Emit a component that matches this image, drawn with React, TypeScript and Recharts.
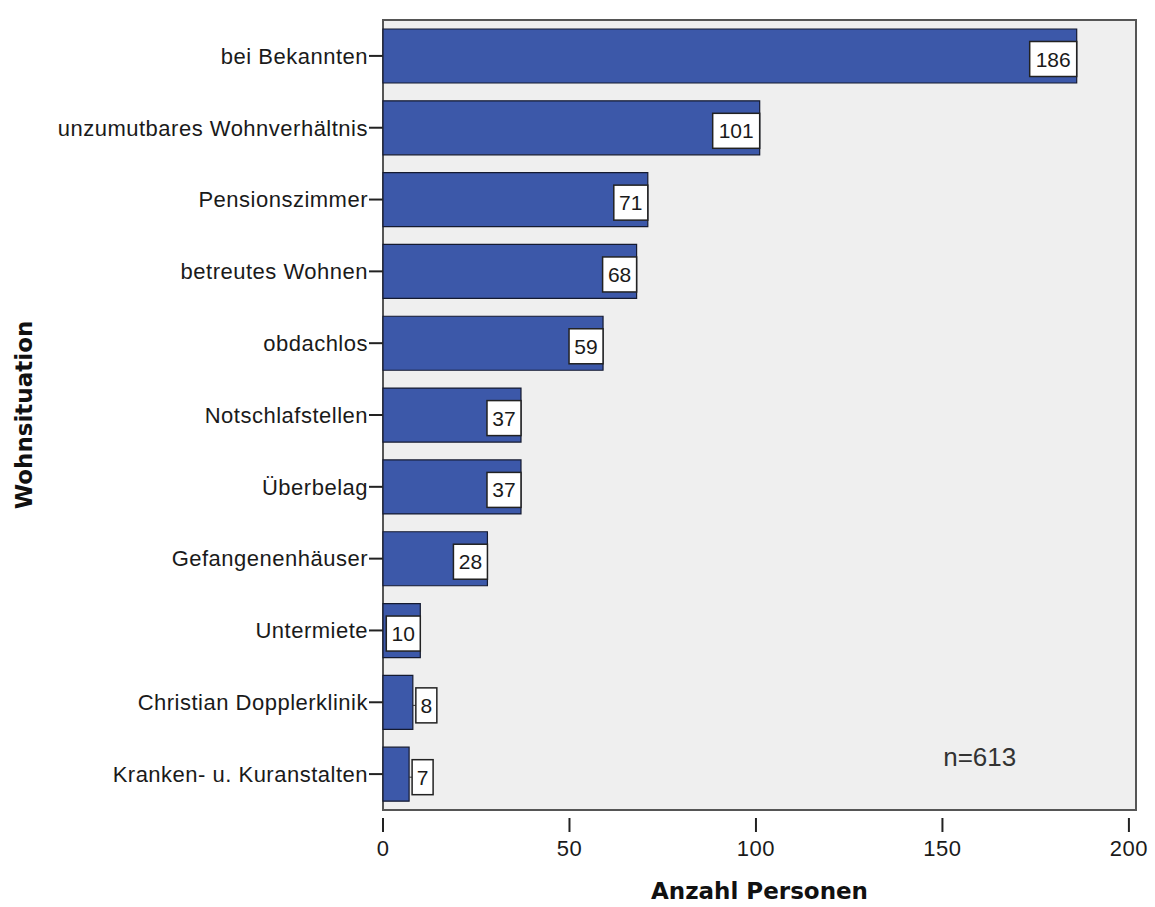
import { BarChart, Bar, XAxis, YAxis, LabelList, ReferenceArea, ReferenceDot } from 'recharts'

const categories = [
  'bei Bekannten',
  'unzumutbares Wohnverhältnis',
  'Pensionszimmer',
  'betreutes Wohnen',
  'obdachlos',
  'Notschlafstellen',
  'Überbelag',
  'Gefangenenhäuser',
  'Untermiete',
  'Christian Dopplerklinik',
  'Kranken- u. Kuranstalten',
]
const counts = [186, 101, 71, 68, 59, 37, 37, 28, 10, 8, 7]
const xTicks = [0, 50, 100, 150, 200]
const xMax = 201.9
const sampleNote = 'n=613'

const data = categories.map((name, i) => ({ name, value: counts[i] }))

const tickFont = { fontSize: 22, fill: '#1a1a1a', fontFamily: 'Liberation Sans, Arial, sans-serif', letterSpacing: 0.5 }
const titleFont = 'DejaVu Sans, Verdana, sans-serif'

// white value box at the bar end, pushed outside when the bar is too short
function ValueBox(props: any) {
  const { x, y, width, height, value } = props
  const txt = String(value)
  const boxW = txt.length * 13 + 8
  const boxH = 35
  const cy = y + height / 2 + 3
  const end = x + width
  const inside = width >= 34
  const bx = inside ? end - boxW : end + 3
  return (
    <g>
      {!inside && <line x1={end} x2={bx} y1={cy} y2={cy} stroke="#333" strokeWidth={1} />}
      <rect x={bx} y={cy - boxH / 2} width={boxW} height={boxH} fill="#fff" stroke="#222" strokeWidth={1.5} />
      <text
        x={bx + boxW / 2}
        y={cy}
        textAnchor="middle"
        dominantBaseline="central"
        fontSize={21}
        fontFamily="Liberation Sans, Arial, sans-serif"
        fill="#1a1a1a"
      >
        {txt}
      </text>
    </g>
  )
}

function YTitle(props: any) {
  const vb = props.viewBox
  const cy = vb.y + vb.height / 2
  return (
    <text
      x={24}
      y={cy}
      transform={`rotate(-90, 24, ${cy})`}
      textAnchor="middle"
      dominantBaseline="central"
      fontSize={23}
      fontWeight="bold"
      fontFamily={titleFont}
      fill="#111"
    >
      Wohnsituation
    </text>
  )
}

function XTitle(props: any) {
  const vb = props.viewBox
  return (
    <text
      x={vb.x + vb.width / 2}
      y={899}
      textAnchor="middle"
      fontSize={23}
      fontWeight="bold"
      fontFamily={titleFont}
      fill="#111"
    >
      Anzahl Personen
    </text>
  )
}

function NoteLabel(props: any) {
  const { cx, cy } = props
  return (
    <text
      x={cx}
      y={cy - 17}
      textAnchor="middle"
      dominantBaseline="central"
      fontSize={26}
      fontFamily="Liberation Sans, Arial, sans-serif"
      fill="#333"
    >
      {sampleNote}
    </text>
  )
}

export default function App() {
  return (
    <div style={{ width: 1155, height: 907 }}>
      <style>{`body{margin:0}`}</style>
      <BarChart
        width={1155}
        height={907}
        data={data}
        layout="vertical"
        margin={{ top: 12, right: 19, bottom: 0, left: 0 }}
        barCategoryGap={9}
      >
        <ReferenceArea x1={0} x2={xMax} fill="#efefef" fillOpacity={1} stroke="none" />
        <XAxis
          type="number"
          domain={[0, xMax]}
          ticks={xTicks}
          height={89}
          axisLine={false}
          tickLine={{ stroke: '#222', strokeWidth: 2 }}
          tickSize={14}
          tickMargin={8}
          tick={tickFont}
          label={{ content: XTitle }}
        />
        <YAxis
          type="category"
          dataKey="name"
          width={383}
          padding={{ top: 8, bottom: 8 }}
          axisLine={false}
          tickLine={{ stroke: '#222', strokeWidth: 2 }}
          tickSize={14}
          tickMargin={1}
          tick={tickFont}
          interval={0}
          label={{ content: YTitle }}
        />
        <Bar dataKey="value" fill="#3c58a9" stroke="#141a30" strokeWidth={1.2} isAnimationActive={false}>
          <LabelList dataKey="value" content={ValueBox} />
        </Bar>
        <ReferenceArea x1={0} x2={xMax} fill="none" stroke="#555" strokeWidth={2} />
        <ReferenceDot
          x={160}
          y={categories[categories.length - 1]}
          r={0}
          fill="none"
          stroke="none"
          label={{ content: (p: any) => <NoteLabel cx={p.viewBox.x + p.viewBox.width / 2} cy={p.viewBox.y + p.viewBox.height / 2} /> }}
        />
      </BarChart>
    </div>
  )
}
